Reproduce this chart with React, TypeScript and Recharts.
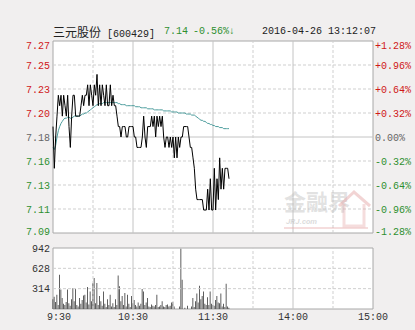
import {
  ComposedChart,
  Line,
  Bar,
  XAxis,
  YAxis,
  ReferenceLine,
  ReferenceArea,
} from 'recharts';

// one value per trading minute, 9:30 .. 11:30 then 13:01 .. 13:12
const prices = [
  7.19, 7.15, 7.18, 7.2, 7.22, 7.21, 7.22, 7.2, 7.22, 7.21,
  7.2, 7.22, 7.19, 7.17, 7.2, 7.22, 7.22, 7.2, 7.2, 7.2,
  7.2, 7.21, 7.22, 7.21, 7.22, 7.22, 7.23, 7.21, 7.23, 7.22,
  7.21, 7.23, 7.22, 7.24, 7.21, 7.23, 7.21, 7.23, 7.22, 7.21,
  7.23, 7.21, 7.21, 7.23, 7.21, 7.22, 7.21, 7.21, 7.2, 7.19,
  7.19, 7.18, 7.19, 7.19, 7.19, 7.18, 7.18, 7.19, 7.19, 7.19,
  7.19, 7.18, 7.18, 7.17, 7.17, 7.17, 7.17, 7.18, 7.2, 7.18,
  7.17, 7.19, 7.19, 7.19, 7.2, 7.19, 7.2, 7.18, 7.2, 7.19,
  7.2, 7.19, 7.2, 7.18, 7.17, 7.18, 7.18, 7.17, 7.18, 7.17,
  7.18, 7.16, 7.18, 7.16, 7.18, 7.17, 7.18, 7.18, 7.19, 7.19,
  7.19, 7.19, 7.18, 7.17, 7.17, 7.16, 7.15, 7.13, 7.12, 7.12,
  7.12, 7.12, 7.12, 7.11, 7.11, 7.11, 7.13, 7.11, 7.14, 7.11,
  7.11, 7.15, 7.11, 7.14, 7.12, 7.16, 7.13, 7.15, 7.13, 7.15,
  7.15, 7.15, 7.14,
];

const avgPrices = [
  7.17, 7.168, 7.172, 7.18, 7.186, 7.19, 7.193, 7.195, 7.197, 7.198,
  7.198, 7.199, 7.199, 7.198, 7.198, 7.199, 7.2, 7.2, 7.2, 7.2,
  7.2, 7.201, 7.202, 7.202, 7.203, 7.203, 7.204, 7.205, 7.206, 7.207,
  7.208, 7.209, 7.21, 7.211, 7.211, 7.212, 7.212, 7.212, 7.213, 7.213,
  7.213, 7.213, 7.213, 7.213, 7.213, 7.213, 7.213, 7.213, 7.213, 7.212,
  7.212, 7.211, 7.211, 7.211, 7.211, 7.21, 7.21, 7.21, 7.21, 7.21,
  7.21, 7.21, 7.209, 7.209, 7.209, 7.209, 7.208, 7.208, 7.208, 7.208,
  7.208, 7.207, 7.207, 7.207, 7.207, 7.207, 7.206, 7.206, 7.206, 7.206,
  7.206, 7.206, 7.206, 7.205, 7.205, 7.205, 7.205, 7.205, 7.205, 7.204,
  7.204, 7.204, 7.204, 7.204, 7.203, 7.203, 7.203, 7.203, 7.203, 7.203,
  7.202, 7.202, 7.202, 7.202, 7.201, 7.201, 7.201, 7.2, 7.199, 7.198,
  7.197, 7.196, 7.196, 7.195, 7.195, 7.194, 7.193, 7.193, 7.192, 7.192,
  7.191, 7.191, 7.19, 7.19, 7.19, 7.189, 7.189, 7.189, 7.188, 7.188,
  7.188, 7.188, 7.188,
];

const volumes = [
  150, 190, 110, 220, 60, 528, 300, 170, 80, 60,
  110, 300, 90, 50, 150, 320, 120, 310, 60, 40,
  170, 80, 140, 210, 220, 100, 340, 70, 270, 120,
  400, 477, 90, 400, 60, 200, 120, 50, 270, 80,
  30, 150, 60, 220, 40, 90, 30, 150, 60, 518,
  350, 120, 200, 60, 246, 40, 220, 80, 30, 200,
  90, 140, 60, 40, 100, 50, 80, 308, 270, 60,
  100, 170, 40, 30, 70, 50, 40, 60, 220, 30,
  40, 60, 120, 40, 30, 60, 70, 40, 50, 100,
  110, 40, 0, 0, 0, 40, 929, 451, 0, 20,
  0, 50, 0, 0, 40, 170, 30, 120, 240, 100,
  360, 150, 200, 270, 80, 60, 180, 60, 270, 80,
  60, 50, 140, 200, 100, 90, 240, 40, 80, 30,
  390, 40, 20,
];

const priceTicks = [7.088, 7.111, 7.134, 7.157, 7.18, 7.203, 7.226, 7.249, 7.272];
const priceLabels = ['7.09', '7.11', '7.13', '7.16', '7.18', '7.20', '7.23', '7.25', '7.27'];
const pctLabels = ['-1.28%', '-0.96%', '-0.64%', '-0.32%', '0.00%', '+0.32%', '+0.64%', '+0.96%', '+1.28%'];
const volTicks = [0, 314, 628, 942];
const timeTicks = [0, 60, 120, 180, 240];
const timeLabels = ['9:30', '10:30', '11:30', '14:00', '15:00'];
const gridMinutes = [30, 60, 90, 120, 150, 180, 210];
const solidMinutes = [60, 120, 180];

const RED = '#d01818';
const GREEN = '#2f8f2f';
const GRAY = '#666666';
const DASH = '#cfcfcf';
const SOLID = '#c4c4c4';
const BORDER = '#a8a8a8';
const MONO = '"Liberation Mono", "DejaVu Sans Mono", monospace';

const rows = prices.map((p, i) => ({ t: i, price: p, avg: avgPrices[i], vol: volumes[i] }));

function labelColor(i: number) {
  if (i === 4) return GRAY;
  return i > 4 ? RED : GREEN;
}

function edgeShift(i: number) {
  if (i === priceTicks.length - 1) return 4;
  if (i === 0) return -2;
  return 0;
}

const LeftPriceTick = ({ x, y, payload }: any) => {
  const i = priceTicks.indexOf(payload.value);
  return (
    <text x={x} y={y + edgeShift(i)} dy={3.5} textAnchor="end" fontSize={10} fontFamily={MONO} fill={labelColor(i)}>
      {priceLabels[i]}
    </text>
  );
};

const RightPctTick = ({ x, y, payload }: any) => {
  const i = priceTicks.indexOf(payload.value);
  return (
    <text x={x} y={y + edgeShift(i)} dy={3.5} textAnchor="start" fontSize={10} fontFamily={MONO} fill={labelColor(i)}>
      {pctLabels[i]}
    </text>
  );
};

const VolTick = ({ x, y, payload }: any) => {
  if (payload.value === 0) return null;
  return (
    <text x={x} y={y} dy={3.5} textAnchor="end" fontSize={10} fontFamily={MONO} fill="#333">
      {payload.value}
    </text>
  );
};

const TimeTick = ({ x, y, payload }: any) => {
  const i = timeTicks.indexOf(payload.value);
  return (
    <text x={x + (i === 0 ? 6 : 0)} y={y} dy={7} textAnchor="middle" fontSize={10} fontFamily={MONO} fill="#333">
      {timeLabels[i]}
    </text>
  );
};

function verticalGrid(yId: string) {
  return gridMinutes.map((m) => (
    <ReferenceLine
      key={'v' + m}
      yAxisId={yId}
      x={m}
      stroke={solidMinutes.includes(m) ? SOLID : DASH}
      strokeDasharray={solidMinutes.includes(m) ? undefined : '3 2'}
    />
  ));
}

export default function App() {
  return (
    <div style={{ position: 'fixed', left: 0, top: 0, width: 415, height: 330, background: '#f1efef', overflow: 'hidden' }}>
      <div
        style={{
          position: 'absolute',
          left: 53,
          top: 25,
          fontFamily: MONO,
          fontSize: 10,
          color: '#222',
          whiteSpace: 'pre',
          lineHeight: '14px',
        }}
      >
        <span style={{ fontFamily: '"Noto Sans CJK SC"', fontSize: 12 }}>三元股份</span>
        <span> [600429]</span>
        <span style={{ position: 'absolute', left: 111, color: GREEN }}>7.14</span>
        <span style={{ position: 'absolute', left: 140, color: GREEN }}>-0.56%↓</span>
        <span style={{ position: 'absolute', left: 209 }}>2016-04-26 13:12:07</span>
      </div>

      <div style={{ position: 'absolute', left: 0, top: 0 }}>
        <ComposedChart width={415} height={240} data={rows} margin={{ top: 41, right: 0, bottom: 7, left: 0 }}>
          <XAxis dataKey="t" type="number" domain={[0, 240]} hide />
          <YAxis
            yAxisId="p"
            orientation="left"
            width={53}
            domain={[priceTicks[0], priceTicks[8]]}
            ticks={priceTicks}
            interval={0}
            axisLine={false}
            tickLine={false}
            tickSize={0}
            tickMargin={3}
            tick={<LeftPriceTick />}
          />
          <YAxis
            yAxisId="r"
            orientation="right"
            width={42}
            domain={[priceTicks[0], priceTicks[8]]}
            ticks={priceTicks}
            interval={0}
            axisLine={false}
            tickLine={false}
            tickSize={0}
            tickMargin={2}
            tick={<RightPctTick />}
          />
          <ReferenceArea
            yAxisId="p"
            x1={0}
            x2={240}
            y1={priceTicks[0]}
            y2={priceTicks[8]}
            fill="#ffffff"
            fillOpacity={1}
            stroke={BORDER}
          />
          {priceTicks.slice(1, 8).map((v) => (
            <ReferenceLine
              key={'h' + v}
              yAxisId="p"
              y={v}
              stroke={v === 7.18 ? SOLID : DASH}
              strokeDasharray={v === 7.18 ? undefined : '3 2'}
            />
          ))}
          {verticalGrid('p')}
          <Line
            yAxisId="p"
            type="linear"
            dataKey="avg"
            stroke="#4b9c9c"
            strokeWidth={1}
            dot={false}
            isAnimationActive={false}
          />
          <Line
            yAxisId="p"
            type="linear"
            dataKey="price"
            stroke="#000000"
            strokeWidth={1}
            dot={false}
            isAnimationActive={false}
          />
          <Line yAxisId="r" dataKey="price" stroke="none" dot={false} isAnimationActive={false} />
        </ComposedChart>
      </div>

      {/* watermark */}
      <div style={{ position: 'absolute', left: 284, top: 189, width: 90, height: 42, pointerEvents: 'none' }}>
        <div style={{ position: 'absolute', left: 0, top: 0, fontFamily: '"Noto Sans CJK SC"', fontWeight: 700, fontSize: 22, color: 'rgba(190,190,190,0.45)', lineHeight: '22px' }}>
          金融界
        </div>
        <div style={{ position: 'absolute', left: 2, top: 28, fontFamily: 'Roboto', fontStyle: 'italic', fontWeight: 700, fontSize: 8, color: 'rgba(190,190,190,0.55)', lineHeight: '9px' }}>
          JRJ.com
        </div>
        <svg width={90} height={42} style={{ position: 'absolute', left: 0, top: 0 }}>
          <polyline points="55,17 70,3 86,17" fill="none" stroke="rgba(230,170,170,0.5)" strokeWidth={3} />
          <polyline points="60,15 60,37 80,37 80,15" fill="none" stroke="rgba(230,170,170,0.4)" strokeWidth={3} />
          <line x1={0} y1={39} x2={84} y2={39} stroke="rgba(230,170,170,0.4)" strokeWidth={2} />
        </svg>
      </div>

      <div style={{ position: 'absolute', left: 0, top: 240 }}>
        <ComposedChart width={415} height={90} data={rows} margin={{ top: 8, right: 42, bottom: 0, left: 0 }}>
          <XAxis
            dataKey="t"
            type="number"
            domain={[0, 240]}
            ticks={timeTicks}
            interval={0}
            height={21}
            axisLine={false}
            tickLine={false}
            tickSize={0}
            tickMargin={4}
            tick={<TimeTick />}
          />
          <YAxis
            yAxisId="v"
            width={53}
            domain={[0, 942]}
            ticks={volTicks}
            interval={0}
            axisLine={false}
            tickLine={false}
            tickSize={0}
            tickMargin={3}
            tick={<VolTick />}
          />
          <ReferenceArea
            yAxisId="v"
            x1={0}
            x2={240}
            y1={0}
            y2={942}
            fill="#ffffff"
            fillOpacity={1}
            stroke={BORDER}
          />
          {volTicks.slice(1, 3).map((v) => (
            <ReferenceLine key={'vh' + v} yAxisId="v" y={v} stroke={DASH} strokeDasharray="3 2" />
          ))}
          {verticalGrid('v')}
          <Bar yAxisId="v" dataKey="vol" fill="#5f5f5f" barSize={1} isAnimationActive={false} />
        </ComposedChart>
      </div>
    </div>
  );
}
